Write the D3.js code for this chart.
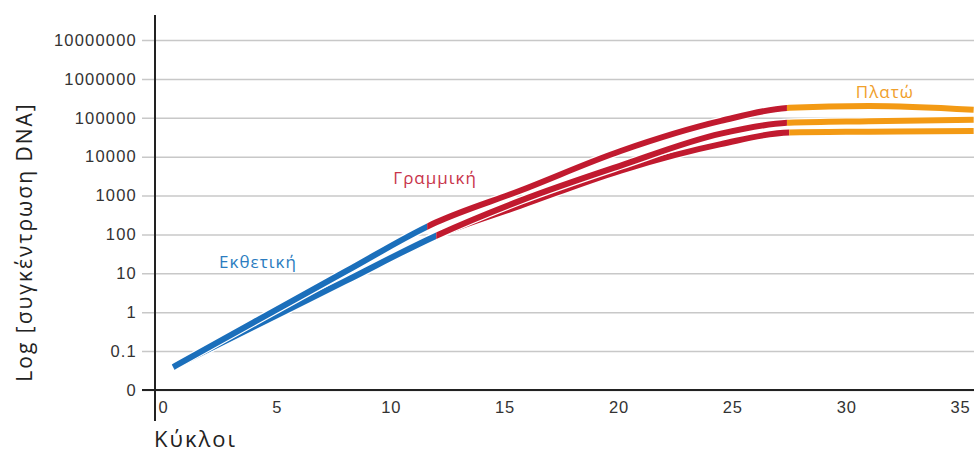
<!DOCTYPE html>
<html>
<head>
<meta charset="utf-8">
<script src="https://cdn.jsdelivr.net/npm/d3@7"></script>
<style>
  body { margin: 0; background: #fff; }
  svg { display: block; font-family: "Open Sans", sans-serif; }
</style>
</head>
<body>
<div id="chart"></div>
<script>
var cycles = [0.45, 4, 8, 12, 15.7, 20.1, 24.5, 27.5, 31, 35.6];

// DNA concentration for the three curves (top, middle, bottom)
var topCurve    = [0.039, 0.56, 11, 205, 1350, 14000, 83000, 180000, 200000, 160000];
var middleCurve = [0.039, 0.43, 6.3, 93, 740, 5900, 39000, 75000, 82000, 89000];
var bottomCurve = [0.039, 0.43, 6.3, 93, 550, 4400, 21000, 42000, 44000, 46000];

// where each curve changes phase (blue -> red -> orange)
var phaseBreaks = [[11.6, 27.4], [12.0, 27.4], [12.0, 27.5]];

var yTicks  = [0.01, 0.1, 1, 10, 100, 1000, 10000, 100000, 1000000, 10000000];
var yLabels = ['0', '0.1', '1', '10', '100', '1000', '10000', '100000', '1000000', '10000000'];
var xTicks  = [0, 5, 10, 15, 20, 25, 30, 35];

var phaseNames  = ['Εκθετική', 'Γραμμική', 'Πλατώ'];
var phaseColors = ['#1b6fbb', '#c11a2f', '#f39a14'];
var labelColors = ['#2b7cc0', '#c8344a', '#f0a02c'];
// label anchor in data units [cycle, concentration]
var labelPos = [[4.17, 13.5], [11.95, 2040], [31.7, 320000]];

var width = 974, height = 452;

var svg = d3.select('#chart').append('svg')
  .attr('width', width)
  .attr('height', height);

var x = d3.scaleLinear().domain([0, 35]).range([163, 960]);
var y = d3.scaleLog().domain([0.01, 10000000]).range([390, 40]);

// horizontal grid + y labels
var yAxis = svg.append('g')
  .attr('transform', 'translate(142,0)')
  .call(d3.axisLeft(y)
    .tickValues(yTicks)
    .tickFormat(function(d, i) { return yLabels[i]; })
    .tickSize(-(width - 142))
    .tickPadding(5));
yAxis.select('.domain').remove();
yAxis.selectAll('.tick line')
  .attr('stroke', '#c8c8c8')
  .attr('stroke-width', 1.5);
yAxis.selectAll('.tick text')
  .attr('fill', '#333')
  .style('font-size', '16.5px')
  .style('letter-spacing', '1.2px');

// x labels
var xAxis = svg.append('g')
  .attr('transform', 'translate(0,390)')
  .call(d3.axisBottom(x)
    .tickValues(xTicks)
    .tickSize(0)
    .tickPadding(11));
xAxis.select('.domain').remove();
xAxis.selectAll('.tick text')
  .attr('fill', '#333')
  .style('font-size', '16.5px')
  .style('letter-spacing', '0.8px');

// axis lines
svg.append('line')
  .attr('x1', 142).attr('x2', width)
  .attr('y1', y(0.01)).attr('y2', y(0.01))
  .attr('stroke', '#222').attr('stroke-width', 2);
svg.append('line')
  .attr('x1', 155).attr('x2', 155)
  .attr('y1', 15).attr('y2', 421)
  .attr('stroke', '#222').attr('stroke-width', 2);

// axis titles
svg.append('text')
  .attr('x', 154).attr('y', 447)
  .attr('fill', '#222')
  .style('font-size', '22px')
  .style('letter-spacing', '2px')
  .text('Κύκλοι');
svg.append('text')
  .attr('transform', 'translate(32,242) rotate(-90)')
  .attr('text-anchor', 'middle')
  .attr('fill', '#222')
  .style('font-size', '21px')
  .style('letter-spacing', '2px')
  .text('Log [συγκέντρωση DNA]');

// curves, each split into three coloured phases with clip rects
var line = d3.line()
  .x(function(d) { return x(d[0]); })
  .y(function(d) { return y(d[1]); })
  .curve(d3.curveMonotoneX);

var defs = svg.append('defs');
var curves = [topCurve, middleCurve, bottomCurve];

// draw bottom first so the top curve sits over it
[2, 1, 0].forEach(function(s) {
  var pts = cycles.map(function(c, i) { return [c, curves[s][i]]; });
  var edges = [0, x(phaseBreaks[s][0]), x(phaseBreaks[s][1]), width];

  // thin white halo keeps neighbouring curves apart
  svg.append('path')
    .datum(pts)
    .attr('fill', 'none')
    .attr('stroke', '#fff')
    .attr('stroke-width', 8.5)
    .attr('d', line);

  for (var p = 0; p < 3; p++) {
    var id = 'clip-' + s + '-' + p;
    defs.append('clipPath').attr('id', id)
      .append('rect')
      .attr('x', edges[p]).attr('y', 0)
      .attr('width', edges[p + 1] - edges[p]).attr('height', height);
    svg.append('path')
      .datum(pts)
      .attr('clip-path', 'url(#' + id + ')')
      .attr('fill', 'none')
      .attr('stroke', phaseColors[p])
      .attr('stroke-width', 6)
      .attr('d', line);
  }
});

// phase labels
svg.selectAll('.phase')
  .data(phaseNames)
  .enter().append('text')
  .attr('class', 'phase')
  .attr('x', function(d, i) { return x(labelPos[i][0]); })
  .attr('y', function(d, i) { return y(labelPos[i][1]); })
  .attr('text-anchor', 'middle')
  .attr('fill', function(d, i) { return labelColors[i]; })
  .style('font-size', '17px')
  .style('letter-spacing', '1px')
  .text(function(d) { return d; });
</script>
</body>
</html>
